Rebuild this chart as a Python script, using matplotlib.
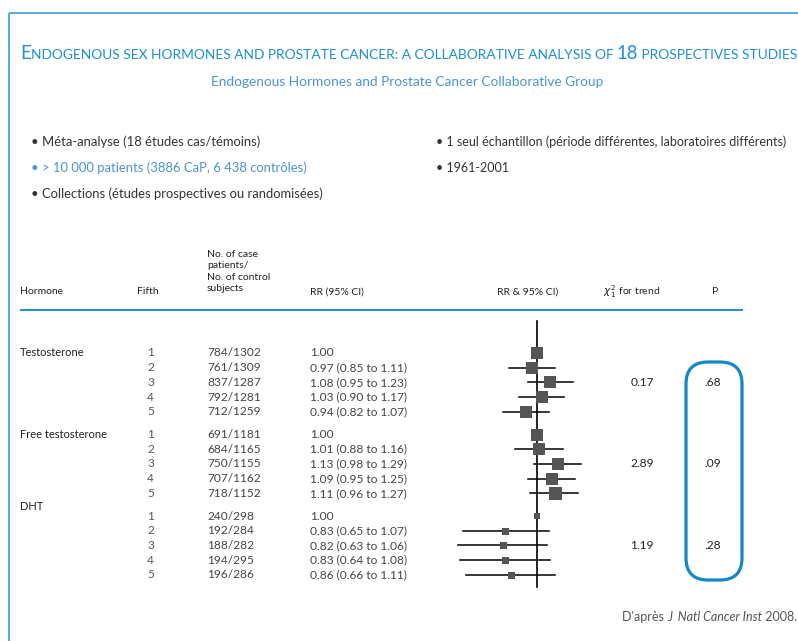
import numpy as np
import matplotlib
matplotlib.use("Agg")
import matplotlib.pyplot as plt
from matplotlib.patches import FancyBboxPatch

plt.rcParams['font.family'] = ['Lato', 'DejaVu Sans']
plt.rcParams['mathtext.fontset'] = 'dejavusans'

# data
hormones = ["Testosterone", "Free testosterone", "DHT"]
fifths = [1, 2, 3, 4, 5]
cases = [[784, 761, 837, 792, 712],
         [691, 684, 750, 707, 718],
         [240, 192, 188, 194, 196]]
controls = [[1302, 1309, 1287, 1281, 1259],
            [1181, 1165, 1155, 1162, 1152],
            [298, 284, 282, 295, 286]]
rr = [[1.00, 0.97, 1.08, 1.03, 0.94],
      [1.00, 1.01, 1.13, 1.09, 1.11],
      [1.00, 0.83, 0.82, 0.83, 0.86]]
ci_lo = [[np.nan, 0.85, 0.95, 0.90, 0.82],
         [np.nan, 0.88, 0.98, 0.95, 0.96],
         [np.nan, 0.65, 0.63, 0.64, 0.66]]
ci_hi = [[np.nan, 1.11, 1.23, 1.17, 1.07],
         [np.nan, 1.16, 1.29, 1.25, 1.27],
         [np.nan, 1.07, 1.06, 1.08, 1.11]]
chi2_trend = [0.17, 2.89, 1.19]
p_trend = [0.68, 0.09, 0.28]

bullets_left = ["Méta-analyse (18 études cas/témoins)",
                "> 10 000 patients (3886 CaP, 6 438 contrôles)",
                "Collections (études prospectives ou randomisées)"]
bullets_right = ["1 seul échantillon (période différentes, laboratoires différents)",
                 "1961-2001"]

# style
BLUE = '#1e8fd0'
FRAME = '#45a6dc'
LIGHTBLUE = '#4a94d4'
BOX = '#555555'
TXT = '#222222'
NUM = '#444444'
box_px = [[12, 12, 12, 12, 12], [12, 12, 12, 12, 13], [6, 7, 7, 7, 7]]

W, H = 798, 641
fig = plt.figure(figsize=(W / 100, H / 100), dpi=100)
ax = fig.add_axes([0, 0, 1, 1])
ax.set_xlim(0, W)
ax.set_ylim(H, 0)
ax.axis('off')
renderer = fig.canvas.get_renderer()

# frame
ax.plot([8.5, W], [13, 13], color=FRAME, lw=1.3, solid_capstyle='butt')
ax.plot([8.5, 8.5], [13, H], color=FRAME, lw=1.3, solid_capstyle='butt')


def run_text(pieces, x, y, **kw):
    """draw text pieces one after the other, return drawn artists and end x"""
    arts = []
    for s, props in pieces:
        t = ax.text(x, y, s, va='baseline', ha='left', **kw, **props)
        bb = t.get_window_extent(renderer)
        x = bb.x1
        arts.append(t)
    return arts, x


# title in small caps, fitted to the width
big, small = 13.5, 10.0
title_pieces = lambda b, s: [("E", dict(fontsize=b)),
                             ("NDOGENOUS SEX HORMONES AND PROSTATE CANCER: A COLLABORATIVE ANALYSIS OF ", dict(fontsize=s)),
                             ("18", dict(fontsize=b)),
                             (" PROSPECTIVES STUDIES", dict(fontsize=s))]
arts, xe = run_text(title_pieces(big, small), 20, 59, color=BLUE)
k = (793 - 20) / (xe - 20)
for a in arts:
    a.remove()
run_text(title_pieces(big * k, small * k), 20, 59, color=BLUE)

ax.text(407, 82, "Endogenous Hormones and Prostate Cancer Collaborative Group",
        ha='center', va='center', fontsize=9.8, color=LIGHTBLUE)

# bullets
for i, s in enumerate(bullets_left):
    ax.text(31, 142 + 26 * i, "• " + s, va='center', fontsize=9.4,
            color=LIGHTBLUE if i == 1 else '#333333')
for i, s in enumerate(bullets_right):
    ax.text(436, 142 + 26 * i, "• " + s, va='center', fontsize=9.0, color='#333333')

# table header
fs = 7.5
fn = 8.6
ax.text(20, 292, "Hormone", va='center', fontsize=fs, color=TXT)
ax.text(137, 292, "Fifth", va='center', fontsize=fs, color=TXT)
ax.text(207, 271.5, "No. of case\npatients/\nNo. of control\nsubjects", va='center',
        fontsize=fs, color=TXT, linespacing=1.3)
ax.text(310, 292, "RR (95% CI)", va='center', fontsize=fs, color=TXT)
ax.text(497, 292, "RR & 95% CI)", va='center', fontsize=fs, color=TXT)
ax.text(603, 292, r"$\chi^2_{\,1}$ for trend", va='center', fontsize=fs, color=TXT)
ax.text(715, 291, "P", va='center', ha='center', fontsize=fs, color=TXT)
ax.plot([20, 743], [310, 310], color=BLUE, lw=1.4, solid_capstyle='butt')

# row layout
row0, group_gap, row_step = 353, 81.5, 14.7
rows = [[row0 + g * group_gap + i * row_step for i in range(5)] for g in range(3)]

for g, name in enumerate(hormones):
    yl = rows[g][0] - 9 if name == "DHT" else rows[g][0]
    ax.text(20, yl, name, va='center', fontsize=8.0, color=TXT)
    for i in range(5):
        y = rows[g][i]
        ax.text(147, y, str(fifths[i]), va='center', fontsize=fn, color='#555555')
        ax.text(207, y, f"{cases[g][i]}/{controls[g][i]}", va='center', fontsize=fn, color=NUM)
        if np.isnan(ci_lo[g][i]):
            lab = f"{rr[g][i]:.2f}"
        else:
            lab = f"{rr[g][i]:.2f} ({ci_lo[g][i]:.2f} to {ci_hi[g][i]:.2f})"
        ax.text(310, y, lab, va='center', fontsize=fn, color=NUM)
    ax.text(642, rows[g][2], f"{chi2_trend[g]:.2f}", va='center', ha='center', fontsize=fn, color=TXT)
    ax.text(713, rows[g][2], f"{p_trend[g]:.2f}".lstrip('0'), va='center', ha='center',
            fontsize=fn, color=TXT)

# p-value box
ax.add_patch(FancyBboxPatch((686, 362), 56, 218, boxstyle="round,pad=0,rounding_size=22",
                            fill=False, ec='#1487c8', lw=2.3))

# forest plot on log scale; RR = 1 at x=537, 172 px per log unit
x_left, x_right = 440, 620
fx = fig.add_axes([x_left / W, 0, (x_right - x_left) / W, 1])
fx.set_xscale('log')
fx.set_xlim(np.exp((x_left - 537) / 172), np.exp((x_right - 537) / 172))
fx.set_ylim(H, 0)
fx.axis('off')
fx.plot([1, 1], [321, 587], color='black', lw=1.2)
for g in range(3):
    for i in range(5):
        y = rows[g][i]
        if not np.isnan(ci_lo[g][i]):
            fx.plot([ci_lo[g][i], ci_hi[g][i]], [y, y], color='black', lw=1.1)
        fx.plot(rr[g][i], y, marker='s', ms=box_px[g][i] * 0.72, color=BOX, mec=BOX, mew=0)

# source
run_text([("D'après ", dict()), ("J  Natl Cancer Inst", dict(style='italic')), (" 2008.", dict())],
         622, 621, fontsize=9.0, color='#555555')

fig.savefig("out.png", dpi=100)
